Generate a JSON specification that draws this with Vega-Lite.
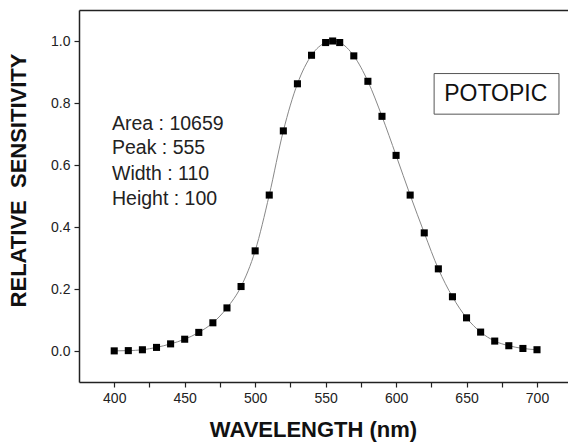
{
  "$schema": "https://vega.github.io/schema/vega-lite/v6.json",
  "width": 489,
  "height": 372,
  "autosize": "none",
  "padding": {"left": 79, "top": 10, "right": 0, "bottom": 62},
  "background": "white",
  "config": {
    "view": {"stroke": null},
    "font": "Liberation Sans",
    "axis": {"grid": false, "labelFont": "Liberation Sans", "titleFont": "Liberation Sans", "labelColor": "#222", "titleColor": "#111", "domainColor": "#222", "tickColor": "#222", "domainWidth": 1.5, "tickWidth": 1.2}
  },
  "datasets": {
    "curve": [
      {"wl": 400, "s": 0.0004}, {"wl": 410, "s": 0.0012}, {"wl": 420, "s": 0.004}, {"wl": 430, "s": 0.0116},
      {"wl": 440, "s": 0.023}, {"wl": 450, "s": 0.038}, {"wl": 460, "s": 0.06}, {"wl": 470, "s": 0.091},
      {"wl": 480, "s": 0.139}, {"wl": 490, "s": 0.208}, {"wl": 500, "s": 0.323}, {"wl": 510, "s": 0.503},
      {"wl": 520, "s": 0.71}, {"wl": 530, "s": 0.862}, {"wl": 540, "s": 0.954}, {"wl": 550, "s": 0.995},
      {"wl": 555, "s": 1.0}, {"wl": 560, "s": 0.995}, {"wl": 570, "s": 0.952}, {"wl": 580, "s": 0.87},
      {"wl": 590, "s": 0.757}, {"wl": 600, "s": 0.631}, {"wl": 610, "s": 0.503}, {"wl": 620, "s": 0.381},
      {"wl": 630, "s": 0.265}, {"wl": 640, "s": 0.175}, {"wl": 650, "s": 0.107}, {"wl": 660, "s": 0.061},
      {"wl": 670, "s": 0.032}, {"wl": 680, "s": 0.017}, {"wl": 690, "s": 0.0082}, {"wl": 700, "s": 0.0041}
    ],
    "notes": [
      {"wl": 398.4, "s": 0.714, "t": "Area : 10659"},
      {"wl": 398.4, "s": 0.636, "t": "Peak : 555"},
      {"wl": 398.4, "s": 0.552, "t": "Width : 110"},
      {"wl": 398.4, "s": 0.472, "t": "Height : 100"}
    ],
    "box": [
      {"wl": 627, "wl2": 715.6, "s": 0.895, "s2": 0.764}
    ],
    "label": [
      {"wl": 670.7, "s": 0.807, "t": "POTOPIC"}
    ]
  },
  "resolve": {"axis": {"x": "independent"}},
  "layer": [
    {
      "data": {"name": "curve"},
      "mark": {"type": "line", "color": "#888", "strokeWidth": 1, "interpolate": "monotone"},
      "encoding": {
        "x": {"field": "wl", "type": "quantitative", "scale": {"domain": [375, 722], "nice": false, "zero": false},
          "axis": {"orient": "bottom", "title": "WAVELENGTH (nm)", "titleFontSize": 22, "titleFontWeight": "bold",
            "titleX": 234, "titleY": 54, "titleBaseline": "alphabetic", "titleAnchor": null,
            "values": [400, 425, 450, 475, 500, 525, 550, 575, 600, 625, 650, 675, 700],
            "labelExpr": "datum.value % 50 == 0 ? datum.label : ''", "labelFontSize": 14,
            "tickSize": 5, "labelPadding": 4, "labelFlush": false,
            "encode": {"ticks": {"update": {"y2": {"signal": "datum.value % 50 == 0 ? -8 : -4"}}}}}},
        "y": {"field": "s", "type": "quantitative", "scale": {"domain": [-0.1, 1.1], "nice": false, "zero": false},
          "axis": {"orient": "left", "title": "RELATIVE\u00a0\u00a0SENSITIVITY", "titleFontSize": 22, "titleFontWeight": "bold",
            "titleX": -54, "titleY": 170, "titleBaseline": "alphabetic", "titleAngle": -90,
            "values": [0, 0.1, 0.2, 0.3, 0.4, 0.5, 0.6, 0.7, 0.8, 0.9, 1.0],
            "labelExpr": "round(datum.value*10) % 2 == 0 ? format(datum.value, '.1f') : ''", "labelFontSize": 14,
            "tickSize": 5, "labelPadding": 4, "labelFlush": false,
            "encode": {"ticks": {"update": {"x2": {"signal": "round(datum.value*10) % 2 == 0 ? 7 : 4"}}}}}}
      }
    },
    {
      "data": {"name": "curve"},
      "mark": {"type": "point", "shape": "square", "filled": true, "color": "#000", "size": 50, "opacity": 1},
      "encoding": {
        "x": {"field": "wl", "type": "quantitative", "axis": null},
        "y": {"field": "s", "type": "quantitative"}
      }
    },
    {
      "data": {"name": "notes"},
      "mark": {"type": "text", "align": "left", "baseline": "alphabetic", "fontSize": 19.5, "font": "Liberation Sans", "color": "#222"},
      "encoding": {
        "x": {"field": "wl", "type": "quantitative", "axis": null},
        "y": {"field": "s", "type": "quantitative"},
        "text": {"field": "t"}
      }
    },
    {
      "data": {"name": "box"},
      "mark": {"type": "rect", "fill": "white", "stroke": "#555", "strokeWidth": 1},
      "encoding": {
        "x": {"field": "wl", "type": "quantitative",
          "axis": {"orient": "top", "title": null, "labels": false, "ticks": false, "domain": true, "grid": false}},
        "x2": {"field": "wl2"},
        "y": {"field": "s", "type": "quantitative"},
        "y2": {"field": "s2"}
      }
    },
    {
      "data": {"name": "label"},
      "mark": {"type": "text", "align": "center", "baseline": "alphabetic", "fontSize": 23, "font": "Liberation Sans", "color": "#111"},
      "encoding": {
        "x": {"field": "wl", "type": "quantitative", "axis": null},
        "y": {"field": "s", "type": "quantitative"},
        "text": {"field": "t"}
      }
    }
  ]
}
